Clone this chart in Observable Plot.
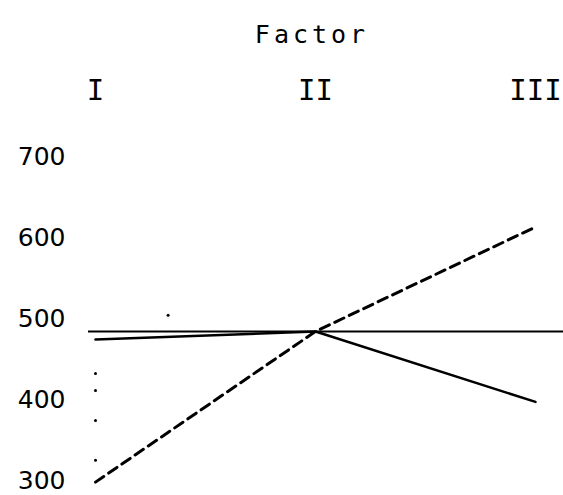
<!DOCTYPE html>
<html>
<head>
<meta charset="utf-8">
<script src="https://cdn.jsdelivr.net/npm/d3@7"></script>
<script src="https://cdn.jsdelivr.net/npm/@observablehq/plot@0.6"></script>
<style>
  html, body { margin: 0; padding: 0; background: #fff; }
  .title-text text { letter-spacing: 4px; }
</style>
</head>
<body>
<div id="chart"></div>
<script>
// Factor levels (x categories)
const levels = ["I", "II", "III"];
const levelIndex = [1, 2, 3];

// Series values
const solidValues = [474, 484, 397];
const dashedValues = [298, 484, 613];
const referenceValue = 484;

// Stray marks near level I
const strayX = [1, 1, 1, 1, 1.33];
const strayY = [432, 411, 374, 325, 504];

// Y tick labels
const yTicks = [300, 400, 500, 600, 700];

const title = "Factor";

const solid = levelIndex.map((x, i) => ({x, y: solidValues[i]}));
const dashed = levelIndex.map((x, i) => ({x, y: dashedValues[i]}));
const stray = strayX.map((x, i) => ({x, y: strayY[i]}));

const chart = Plot.plot({
  width: 563,
  height: 495,
  marginTop: 120,
  marginLeft: 88,
  marginRight: 0,
  marginBottom: 10,
  style: {background: "#fff", color: "#000"},
  x: {domain: [1, 3], range: [95, 535]},
  y: {domain: [300, 700], range: [480, 156]},
  marks: [
    Plot.axisY({
      ticks: yTicks,
      tickSize: 0,
      tickPadding: 23,
      fontSize: 25,
      fontFamily: "DejaVu Sans",
      label: null
    }),
    Plot.axisX({
      anchor: "top",
      ticks: levelIndex,
      tickFormat: (d) => levels[d - 1],
      tickSize: 0,
      tickPadding: 21,
      fontSize: 29,
      fontFamily: "DejaVu Sans Mono",
      label: null
    }),
    Plot.text([title], {
      frameAnchor: "top",
      dx: -14,
      dy: -95,
      fontSize: 25,
      fontFamily: "DejaVu Sans Mono",
      fill: "#000",
      className: "title-text"
    }),
    Plot.ruleY([referenceValue], {stroke: "#000", strokeWidth: 2}),
    Plot.line(solid, {x: "x", y: "y", stroke: "#000", strokeWidth: 2.5}),
    Plot.line(dashed, {x: "x", y: "y", stroke: "#000", strokeWidth: 3, strokeDasharray: "10,6"}),
    Plot.dot(stray, {x: "x", y: "y", r: 1.5, fill: "#000", stroke: null})
  ]
});

document.getElementById("chart").appendChild(chart);
</script>
</body>
</html>
